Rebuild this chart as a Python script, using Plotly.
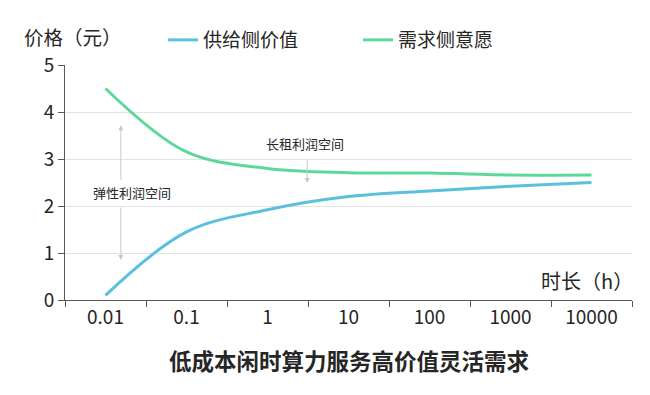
import plotly.graph_objects as go

categories = ["0.01", "0.1", "1", "10", "100", "1000", "10000"]
supply = [0.1, 1.45, 1.92, 2.2, 2.32, 2.42, 2.5]
demand = [4.5, 3.15, 2.8, 2.71, 2.7, 2.66, 2.66]

FONT = "Noto Sans CJK SC, Microsoft YaHei, sans-serif"
TXT = "#262626"
# page body has an 8px default margin; size the figure to fill the 650x395 window
W, H, OFF = 642, 387, 8

fig = go.Figure()
fig.add_trace(go.Scatter(x=categories, y=supply, mode="lines", name="供给侧价值",
                         line=dict(color="#5bc0de", width=3, shape="spline", smoothing=1.0)))
fig.add_trace(go.Scatter(x=categories, y=demand, mode="lines", name="需求侧意愿",
                         line=dict(color="#5cd99a", width=3, shape="spline", smoothing=1.0)))

fig.update_layout(
    width=W, height=H,
    margin=dict(l=65 - OFF, r=18, t=65 - OFF, b=95, autoexpand=False),
    plot_bgcolor="white", paper_bgcolor="white",
    font=dict(family=FONT, color=TXT, size=16),
    showlegend=True,
    legend=dict(orientation="h", xref="container", yref="container",
                x=(163 - OFF) / W, y=1 - (40 - OFF) / H, xanchor="left", yanchor="middle",
                entrywidth=150, entrywidthmode="pixels",
                font=dict(size=19, color=TXT), bgcolor="rgba(0,0,0,0)"),
    xaxis=dict(type="category", range=[-0.5, 6.5], tickson="boundaries",
               ticks="outside", ticklen=6, tickcolor="#595959", automargin=False,
               showline=True, linecolor="#595959", linewidth=1,
               showgrid=False, tickfont=dict(size=19, color=TXT)),
    yaxis=dict(range=[0, 5], dtick=1, ticks="outside", ticklen=6, tickcolor="#595959",
               showline=True, linecolor="#595959", linewidth=1, automargin=False,
               showgrid=True, gridcolor="#e3e3e3", zeroline=False,
               tickfont=dict(size=19, color=TXT)),
)

ann = []
ann.append(dict(text="价格（元）", xref="paper", yref="paper", x=-0.0758, y=1.12,
                xanchor="left", yanchor="middle", showarrow=False, font=dict(size=19.5, color=TXT)))
ann.append(dict(text="时长（h）", xref="paper", yref="paper", x=1.005, y=0.085,
                xanchor="right", yanchor="middle", showarrow=False, font=dict(size=20, color=TXT)))
ann.append(dict(text="<b>低成本闲时算力服务高价值灵活需求</b>", xref="paper", yref="paper", x=0.5,
                y=-0.255, xanchor="center", yanchor="middle", showarrow=False,
                font=dict(size=22.5, color=TXT)))
ann.append(dict(text="弹性利润空间", xref="x", yref="y", x=0.33, y=2.28,
                showarrow=False, font=dict(size=13, color=TXT)))
ann.append(dict(text="长租利润空间", xref="x", yref="y", x=2.46, y=3.34,
                showarrow=False, font=dict(size=13, color=TXT)))
arrow = dict(text="", showarrow=True, arrowhead=2, arrowsize=1, arrowwidth=1,
             arrowcolor="#c8c8c8", xref="x", yref="y", axref="x", ayref="y")
ann.append(dict(arrow, x=0.19, y=3.72, ax=0.19, ay=2.52))
ann.append(dict(arrow, x=0.19, y=0.85, ax=0.19, ay=2.0))
ann.append(dict(arrow, x=2.49, y=2.49, ax=2.49, ay=3.02))
fig.update_layout(annotations=ann)

fig.write_html("out.html")
